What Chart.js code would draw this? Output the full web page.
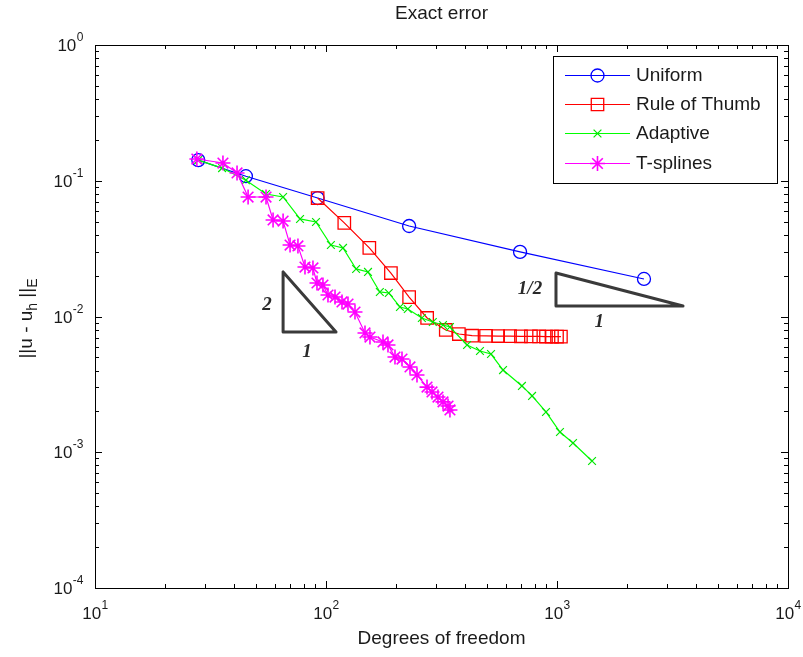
<!DOCTYPE html>
<html>
<head>
<meta charset="utf-8">
<script src="https://cdn.jsdelivr.net/npm/chart.js@4.4.1/dist/chart.umd.min.js"></script>
<style>
  html, body { margin: 0; padding: 0; background: #ffffff; }
  #wrap { width: 803px; height: 657px; }
</style>
</head>
<body>
<div id="wrap"><canvas id="c" width="803" height="657"></canvas></div>
<script>
// Energy-norm error against degrees of freedom for four refinement strategies
const uniformDof = [28, 45, 92, 229, 692, 2380];
const uniformErr = [0.142, 0.108, 0.0746, 0.0464, 0.0299, 0.0189];

const thumbDof = [92, 120, 154, 191, 229, 274, 330, 376, 429, 493, 556, 626, 698, 771, 836, 896, 951, 1000, 1040];
const thumbErr = [0.0746, 0.0489, 0.0320, 0.0209, 0.0139, 0.00975, 0.00796, 0.00743, 0.00722, 0.00720, 0.00718, 0.00716, 0.00715, 0.00714, 0.00713, 0.00712, 0.00711, 0.00711, 0.00710];

const adaptiveDof = [28, 35.5, 45, 55, 65.2, 77.2, 90.5, 105, 118.5, 135, 152, 171, 187, 209, 226, 260, 290, 321, 344, 408, 464, 518, 584, 705, 780, 896, 1030, 1173, 1418];
const adaptiveErr = [0.142, 0.124, 0.101, 0.0799, 0.0759, 0.0523, 0.0497, 0.0336, 0.0320, 0.0224, 0.0213, 0.01516, 0.0149, 0.01175, 0.01136, 0.00975, 0.00911, 0.00866, 0.00837, 0.00617, 0.00557, 0.00529, 0.00403, 0.00308, 0.0026, 0.00198, 0.00141, 0.00117, 0.000862];

const tsplineDof = [27.6, 35.8, 41.2, 46, 55, 59, 65.2, 69.9, 75.6, 81.1, 87.8, 91.4, 97, 102, 109.4, 117.3, 124.5, 133.5, 147.5, 155, 176.5, 185.5, 198.9, 213.3, 231, 247.7, 273.7, 287.7, 305.3, 321, 337.5, 344];
const tsplineErr = [0.1446, 0.1351, 0.1141, 0.0759, 0.0759, 0.0514, 0.0505, 0.0336, 0.0331, 0.02315, 0.02277, 0.01765, 0.01706, 0.0144, 0.01391, 0.01279, 0.01236, 0.01079, 0.00756, 0.00706, 0.00649, 0.00617, 0.00503, 0.00486, 0.00425, 0.00371, 0.00302, 0.00278, 0.00255, 0.00235, 0.00219, 0.00205];

// reference slope triangles (closed outlines)
const slopeTwoX = [65.2, 65.2, 110.5, 65.2];
const slopeTwoY = [0.0213, 0.00769, 0.00769, 0.0213];
const slopeHalfX = [990, 990, 3512, 990];
const slopeHalfY = [0.0209, 0.01195, 0.01195, 0.0209];

// slope annotations: text, dof, error
const slopeLabels = [
  ['2', 55.5, 0.0121],
  ['1', 82.8, 0.00545],
  ['1/2', 764, 0.01595],
  ['1', 1524, 0.00916]
];

const seriesNames = ['Uniform', 'Rule of Thumb', 'Adaptive', 'T-splines'];
const xTickExps = [1, 2, 3, 4];
const yTickExps = [0, -1, -2, -3, -4];

const TEXT = '#1a1a1a';
const FONT = '"Liberation Sans", Arial, sans-serif';

function pts(xs, ys) { return xs.map((x, i) => ({ x: x, y: ys[i] })); }

const series = [
  { label: seriesNames[0], data: pts(uniformDof, uniformErr), borderColor: '#0000ff', pointBorderColor: '#0000ff',
    pointBackgroundColor: 'rgba(0,0,0,0)', pointStyle: 'circle', pointRadius: 6.5, pointBorderWidth: 1.3, order: 4 },
  { label: seriesNames[1], data: pts(thumbDof, thumbErr), borderColor: '#ff0000', pointBorderColor: '#ff0000',
    pointBackgroundColor: 'rgba(0,0,0,0)', pointStyle: 'rect', pointRadius: 8.8, pointBorderWidth: 1.3, order: 3 },
  { label: seriesNames[2], data: pts(adaptiveDof, adaptiveErr), borderColor: '#00ff00', pointBorderColor: '#00e600',
    pointBackgroundColor: 'rgba(0,0,0,0)', pointStyle: 'crossRot', pointRadius: 5.5, pointBorderWidth: 1.2, order: 2 },
  { label: seriesNames[3], data: pts(tsplineDof, tsplineErr), borderColor: '#ff00ff', pointBorderColor: '#ff00ff',
    pointBackgroundColor: 'rgba(0,0,0,0)', pointStyle: 'star', pointRadius: 7.5, pointBorderWidth: 1.6, order: 1 }
].map(d => Object.assign({ borderWidth: 1.2, tension: 0, fill: false, isSeries: true }, d));

const triangles = [pts(slopeTwoX, slopeTwoY), pts(slopeHalfX, slopeHalfY)].map((p, i) => ({
  label: 'slope' + i, data: p, borderColor: '#3a3a3a', borderWidth: 3, pointRadius: 0,
  borderJoinStyle: 'round', borderCapStyle: 'round', fill: false, order: 5, tension: 0
}));

function drawPower(ctx, exp, x, y, align) {
  // "10" with a raised exponent
  const base = '10', sup = String(exp);
  ctx.font = '17px ' + FONT;
  const wb = ctx.measureText(base).width;
  ctx.font = '12px ' + FONT;
  const ws = ctx.measureText(sup).width;
  let left;
  if (align === 'right') left = x - wb - ws;
  else left = x - (wb + ws) / 2;
  ctx.textAlign = 'left';
  ctx.textBaseline = 'alphabetic';
  ctx.font = '17px ' + FONT;
  ctx.fillText(base, left, y);
  ctx.font = '12px ' + FONT;
  ctx.fillText(sup, left + wb + 0.5, y - 10);
}

const framePlugin = {
  id: 'frame',
  afterDatasetsDraw(chart) {
    const ctx = chart.ctx, a = chart.chartArea;
    const xs = chart.scales.x, ys = chart.scales.y;
    ctx.save();
    ctx.fillStyle = TEXT;
    ctx.strokeStyle = '#000';
    ctx.lineWidth = 1;

    // slope annotations
    ctx.font = 'bold italic 19px "Liberation Serif", "DejaVu Serif", serif';
    ctx.fillStyle = '#2a2a2a';
    ctx.textAlign = 'center';
    ctx.textBaseline = 'middle';
    slopeLabels.forEach(([t, dx, dy]) => ctx.fillText(t, xs.getPixelForValue(dx), ys.getPixelForValue(dy)));
    ctx.fillStyle = TEXT;

    // axes box
    ctx.strokeRect(Math.round(a.left) + 0.5, Math.round(a.top) + 0.5,
                   Math.round(a.right - a.left), Math.round(a.bottom - a.top));

    // inward ticks on all four sides
    ctx.beginPath();
    for (let e = xTickExps[0]; e < xTickExps[xTickExps.length - 1]; e++) {
      for (let m = 1; m < 10; m++) {
        const p = Math.round(xs.getPixelForValue(m * Math.pow(10, e))) + 0.5;
        const len = m === 1 ? 7 : 4;
        ctx.moveTo(p, a.bottom); ctx.lineTo(p, a.bottom - len);
        ctx.moveTo(p, a.top); ctx.lineTo(p, a.top + len);
      }
    }
    for (let e = yTickExps[yTickExps.length - 1]; e < yTickExps[0]; e++) {
      for (let m = 1; m < 10; m++) {
        const p = Math.round(ys.getPixelForValue(m * Math.pow(10, e))) + 0.5;
        const len = m === 1 ? 7 : 4;
        ctx.moveTo(a.left, p); ctx.lineTo(a.left + len, p);
        ctx.moveTo(a.right, p); ctx.lineTo(a.right - len, p);
      }
    }
    ctx.stroke();

    // tick labels
    xTickExps.forEach(e => drawPower(ctx, e, xs.getPixelForValue(Math.pow(10, e)), a.bottom + 31, 'center'));
    yTickExps.forEach(e => drawPower(ctx, e, a.left - 12, ys.getPixelForValue(Math.pow(10, e)) + 6, 'right'));

    // title and axis labels
    ctx.font = '19px ' + FONT;
    ctx.textAlign = 'center';
    ctx.textBaseline = 'alphabetic';
    const cx = (a.left + a.right) / 2;
    ctx.fillText('Exact error', cx, 19);
    ctx.fillText('Degrees of freedom', cx, 644);

    // y label: ||u - u_h ||_E, rotated
    ctx.save();
    ctx.translate(32, (a.top + a.bottom) / 2 + 2);
    ctx.rotate(-Math.PI / 2);
    const parts = [['||u - u', 19, 0], ['h', 14, 5], [' ||', 19, 0], ['E', 14, 5]];
    let total = 0;
    parts.forEach(([t, s]) => { ctx.font = s + 'px ' + FONT; total += ctx.measureText(t).width; });
    let px = -total / 2;
    ctx.textAlign = 'left';
    parts.forEach(([t, s, dy]) => { ctx.font = s + 'px ' + FONT; ctx.fillText(t, px, dy); px += ctx.measureText(t).width; });
    ctx.restore();

    // legend
    const L = { x: 553, y: 56, w: 224, h: 127 };
    ctx.fillStyle = '#fff';
    ctx.fillRect(L.x, L.y, L.w, L.h);
    ctx.strokeStyle = '#000';
    ctx.lineWidth = 1;
    ctx.strokeRect(L.x + 0.5, L.y + 0.5, L.w, L.h);
    const rowY = [75, 104, 133, 163];
    chart.data.datasets.filter(d => d.isSeries).forEach((d, i) => {
      const y = rowY[i];
      ctx.strokeStyle = d.borderColor;
      ctx.lineWidth = d.borderWidth;
      ctx.beginPath(); ctx.moveTo(565, y + 0.5); ctx.lineTo(630, y + 0.5); ctx.stroke();
      ctx.strokeStyle = d.pointBorderColor;
      ctx.fillStyle = 'rgba(0,0,0,0)';
      ctx.lineWidth = d.pointBorderWidth;
      Chart.helpers.drawPoint(ctx, { pointStyle: d.pointStyle, radius: d.pointRadius, rotation: 0, borderWidth: d.pointBorderWidth }, 597.5, y + 0.5);
      ctx.fillStyle = TEXT;
      ctx.font = '19px ' + FONT;
      ctx.textAlign = 'left';
      ctx.textBaseline = 'middle';
      ctx.fillText(d.label, 636, y + 1);
    });
    ctx.restore();
  }
};

new Chart(document.getElementById('c'), {
  type: 'line',
  data: { datasets: series.concat(triangles) },
  options: {
    responsive: false,
    animation: false,
    devicePixelRatio: 1,
    layout: { padding: { left: 95, top: 45, right: 15, bottom: 69 } },
    plugins: { legend: { display: false }, tooltip: { enabled: false }, title: { display: false } },
    scales: {
      x: { type: 'logarithmic', min: Math.pow(10, xTickExps[0]), max: Math.pow(10, xTickExps[xTickExps.length - 1]), display: false },
      y: { type: 'logarithmic', min: Math.pow(10, yTickExps[yTickExps.length - 1]), max: Math.pow(10, yTickExps[0]), display: false }
    }
  },
  plugins: [framePlugin]
});
</script>
</body>
</html>
